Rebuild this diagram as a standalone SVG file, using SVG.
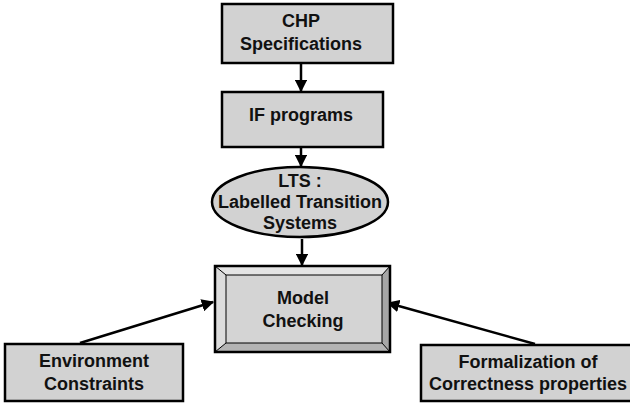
<svg xmlns="http://www.w3.org/2000/svg" width="630" height="403" viewBox="0 0 630 403">
  <style>
    .box { fill: #d2d2d2; stroke: #000; stroke-width: 2.5; }
    .lbl { font-family: "Liberation Sans", Arial, sans-serif; font-weight: bold; font-size: 18px; fill: #111; text-anchor: middle; }
    .edge { stroke: #000; stroke-width: 2.5; fill: none; marker-end: url(#head); }
  </style>
  <defs>
    <marker id="head" viewBox="0 0 10 10" refX="9" refY="5" markerWidth="5" markerHeight="5" orient="auto" markerUnits="strokeWidth">
      <path d="M0,0 L10,5 L0,10 Z" fill="#000"/>
    </marker>
  </defs>
  <rect width="630" height="403" fill="#fff"/>

  <g id="edges">
    <line class="edge" x1="301" y1="64" x2="301" y2="91"/>
    <line class="edge" x1="301" y1="148" x2="301" y2="166"/>
    <line class="edge" x1="302" y1="239" x2="302" y2="265"/>
    <line class="edge" x1="80" y1="343" x2="213" y2="302"/>
    <line class="edge" x1="535" y1="344" x2="388" y2="303"/>
  </g>

  <g id="chp">
    <rect class="box" x="222" y="4" width="171" height="59"/>
    <text class="lbl" x="301" y="27" font-size="19">CHP</text>
    <text class="lbl" x="301" y="50" font-size="19">Specifications</text>
  </g>

  <g id="if">
    <rect class="box" x="222" y="92" width="161" height="55"/>
    <text class="lbl" x="301" y="121" font-size="19">IF programs</text>
  </g>

  <g id="lts">
    <ellipse class="box" cx="300" cy="202" rx="88" ry="35"/>
    <text class="lbl" x="300" y="187" font-size="16">LTS :</text>
    <text class="lbl" x="300" y="208" font-size="16">Labelled Transition</text>
    <text class="lbl" x="300" y="229" font-size="16">Systems</text>
  </g>

  <g id="model">
    <rect x="215" y="266" width="175" height="86" fill="#d2d2d2"/>
    <!-- bevel faces -->
    <polygon points="215,266 390,266 382,275 226,275" fill="#e4e4e4"/>
    <polygon points="215,266 226,275 226,343 215,352" fill="#dcdcdc"/>
    <polygon points="390,266 390,352 382,343 382,275" fill="#a6a6a6"/>
    <polygon points="215,352 226,343 382,343 390,352" fill="#b4b4b4"/>
    <rect x="226" y="275" width="156" height="68" fill="#d4d4d4" stroke="#000" stroke-width="1"/>
    <line x1="215" y1="266" x2="226" y2="275" stroke="#000" stroke-width="1"/>
    <line x1="390" y1="266" x2="382" y2="275" stroke="#000" stroke-width="1"/>
    <line x1="215" y1="352" x2="226" y2="343" stroke="#000" stroke-width="1"/>
    <line x1="390" y1="352" x2="382" y2="343" stroke="#000" stroke-width="1"/>
    <rect x="215" y="266" width="175" height="86" fill="none" stroke="#000" stroke-width="2.5"/>
    <text class="lbl" x="303" y="304" font-size="19">Model</text>
    <text class="lbl" x="303" y="327" font-size="19">Checking</text>
  </g>

  <g id="env">
    <rect class="box" x="5" y="344" width="178" height="57"/>
    <text class="lbl" x="94" y="367">Environment</text>
    <text class="lbl" x="94" y="390">Constraints</text>
  </g>

  <g id="formal">
    <rect class="box" x="421" y="345" width="212" height="56"/>
    <text class="lbl" x="528" y="368">Formalization of</text>
    <text class="lbl" x="528" y="390">Correctness properties</text>
  </g>
</svg>
